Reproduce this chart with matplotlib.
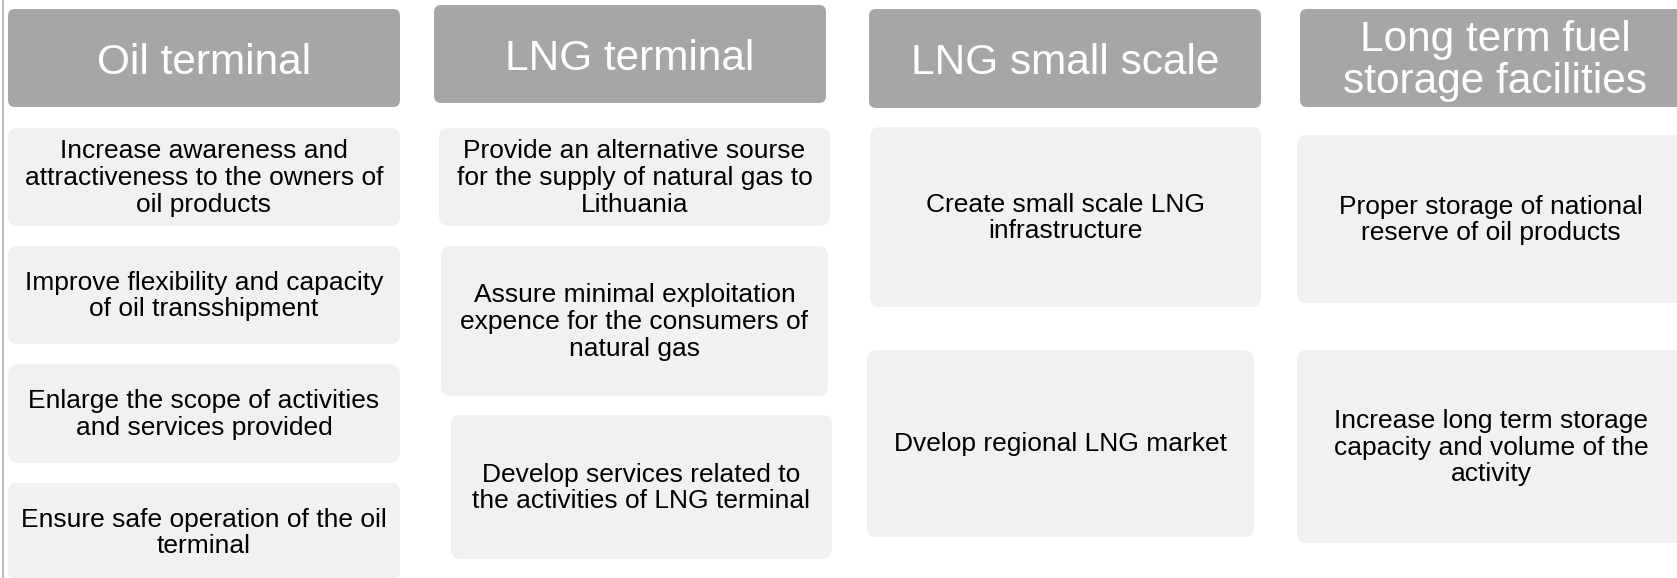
import matplotlib
matplotlib.use("Agg")
import matplotlib.pyplot as plt
from matplotlib.patches import FancyBboxPatch

# ---- content ----
headers = ["Oil terminal", "LNG terminal", "LNG small scale",
           "Long term fuel\nstorage facilities"]
oil_items = ["Increase awareness and\nattractiveness to the owners of\noil products",
             "Improve flexibility and capacity\nof oil transshipment",
             "Enlarge the scope of activities\nand services provided",
             "Ensure safe operation of the oil\nterminal"]
lng_items = ["Provide an alternative sourse\nfor the supply of natural gas to\nLithuania",
             "Assure minimal exploitation\nexpence for the consumers of\nnatural gas",
             "Develop services related to\nthe activities of LNG terminal"]
small_items = ["Create small scale LNG\ninfrastructure",
               "Dvelop regional LNG market"]
storage_items = ["Proper storage of national\nreserve of oil products",
                 "Increase long term storage\ncapacity and volume of the\nactivity"]

# ---- layout (pixels: x0, y0, x1, y1) ----
header_boxes = [(8, 9, 400, 107), (434, 5, 826, 103), (869, 9, 1261, 108), (1300, 9, 1692, 107)]
oil_boxes = [(8, 128, 400, 226), (8, 246, 400, 344), (8, 364, 400, 463), (8, 483, 400, 581)]
lng_boxes = [(439, 128, 830, 226), (441, 246, 828, 396), (451, 415, 832, 559)]
small_boxes = [(870, 127, 1261, 307), (867, 350, 1254, 537)]
storage_boxes = [(1297, 135, 1685, 303), (1297, 350, 1685, 543)]

W, H = 1677, 578
fig = plt.figure(figsize=(W / 100, H / 100), dpi=100)
ax = fig.add_axes([0, 0, 1, 1])
ax.set_xlim(0, W)
ax.set_ylim(H, 0)
ax.axis("off")

FONT = "Liberation Sans"


def box(b, fc, r):
    x0, y0, x1, y1 = b
    ax.add_patch(FancyBboxPatch((x0, y0), x1 - x0, y1 - y0,
                                boxstyle=f"round,pad=0,rounding_size={r}",
                                fc=fc, ec="none", mutation_aspect=1))


# left border line
ax.plot([3, 3], [0, H], color="#bcbcbc", lw=1.5)

for b, t in zip(header_boxes, headers):
    box(b, "#a6a6a6", 7)
    cx = (b[0] + b[2]) / 2
    cy = (b[1] + b[3]) / 2
    dy = 5
    if b[2] > W:
        cx = 1495
        dy = 3
    ax.text(cx, cy + dy, t, ha="center", va="center", color="white",
            fontsize=30.5, family=FONT, linespacing=1.05)

for boxes, items in [(oil_boxes, oil_items), (lng_boxes, lng_items),
                     (small_boxes, small_items), (storage_boxes, storage_items)]:
    for b, t in zip(boxes, items):
        box(b, "#f1f1f1", 10)
        cx = (b[0] + b[2]) / 2
        cy = (b[1] + b[3]) / 2
        ax.text(cx, cy + 1, t, ha="center", va="center", color="black",
                fontsize=19, family=FONT, linespacing=1.14)

fig.savefig("out.png", dpi=100)
